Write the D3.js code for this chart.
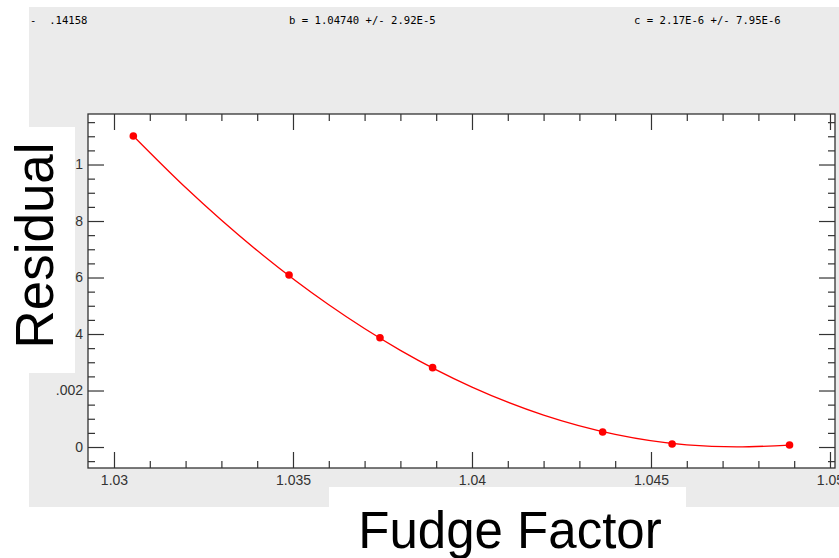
<!DOCTYPE html>
<html>
<head>
<meta charset="utf-8">
<script src="https://cdn.jsdelivr.net/npm/d3@7/dist/d3.min.js"></script>
<style>
  html, body { margin: 0; padding: 0; background: #ffffff; }
  svg { display: block; }
</style>
</head>
<body>
<svg id="chart" width="839" height="558"></svg>
<script>
// ---- data ----
const pointX = [1.03054, 1.03489, 1.03743, 1.03890, 1.04365, 1.04559, 1.04887];
const pointY = [0.011010, 0.006088, 0.003870, 0.002810, 0.000530, 0.000106, 0.000070];

// fitted curve
const fitX = [1.03054, 1.0320, 1.0340, 1.0360, 1.0380, 1.0400, 1.0420, 1.0440, 1.0460, 1.0474, 1.04887];
const fitY = [0.011010, 0.009185, 0.006954, 0.005033, 0.003422, 0.002121, 0.001129, 0.000448, 0.000076, 0.000002, 0.000070];

const xTickValues = [1.03, 1.035, 1.04, 1.045, 1.05];
const xTickLabels = ["1.03", "1.035", "1.04", "1.045", "1.05"];
const yTickValues = [0, 0.002, 0.004, 0.006, 0.008, 0.01];
const yTickLabels = ["0", ".002", ".004", ".006", ".008", ".01"];

const headerTexts = ["-  .14158", "b = 1.04740 +/- 2.92E-5", "c = 2.17E-6 +/- 7.95E-6"];
const xTitle = "Fudge Factor";
const yTitle = "Residual";

// ---- layout ----
const svg = d3.select("#chart");
const plot = { left: 88, right: 835, top: 114, bottom: 468 };

const x = d3.scaleLinear().domain([1.029274, 1.05014]).range([plot.left, plot.right]);
const y = d3.scaleLinear().domain([-0.000743, 0.011788]).range([plot.bottom, plot.top]);

// grey panel
svg.append("rect").attr("x", 29).attr("y", 7).attr("width", 810).attr("height", 500).attr("fill", "#ebebeb");

// header texts
const headerX = [30, 289, 634];
svg.selectAll("text.hdr").data(headerTexts).join("text")
  .attr("class", "hdr")
  .attr("x", (d, i) => headerX[i]).attr("y", 23.5)
  .attr("font-family", "'DejaVu Sans Mono', 'Liberation Mono', monospace")
  .attr("font-size", 10.6)
  .attr("fill", "#000")
  .style("white-space", "pre")
  .attr("xml:space", "preserve")
  .text(d => d);

// plot area
svg.append("rect")
  .attr("x", plot.left).attr("y", plot.top)
  .attr("width", plot.right - plot.left).attr("height", plot.bottom - plot.top)
  .attr("fill", "#ffffff");

const tickColor = "#333";
const minorX = d3.range(1030, 1051, 1).map(v => v / 1000).filter(v => v >= x.domain()[0] && v <= x.domain()[1] && !xTickValues.some(t => Math.abs(t - v) < 1e-9));
const minorY = d3.range(-1, 24, 1).map(v => v * 0.0005).filter(v => v >= y.domain()[0] && v <= y.domain()[1] && !yTickValues.some(t => Math.abs(t - v) < 1e-9));

function styleAxis(g) {
  g.select(".domain").remove();
  g.selectAll(".tick line").attr("stroke", tickColor).attr("stroke-width", 1.2);
  g.selectAll(".tick text").attr("fill", "#333")
    .attr("font-family", "'Liberation Sans', Arial, sans-serif").attr("font-size", 14);
}

// bottom
svg.append("g").attr("transform", `translate(0,${plot.bottom})`)
  .call(d3.axisBottom(x).tickValues(xTickValues).tickSize(-16).tickPadding(7)
    .tickFormat((d, i) => xTickLabels[i]))
  .call(styleAxis);
svg.append("g").attr("transform", `translate(0,${plot.bottom})`)
  .call(d3.axisBottom(x).tickValues(minorX).tickSize(-7).tickFormat(""))
  .call(styleAxis);
// top
svg.append("g").attr("transform", `translate(0,${plot.top})`)
  .call(d3.axisTop(x).tickValues(xTickValues).tickSize(-16).tickFormat(""))
  .call(styleAxis);
svg.append("g").attr("transform", `translate(0,${plot.top})`)
  .call(d3.axisTop(x).tickValues(minorX).tickSize(-7).tickFormat(""))
  .call(styleAxis);
// left
svg.append("g").attr("transform", `translate(${plot.left},0)`)
  .call(d3.axisLeft(y).tickValues(yTickValues).tickSize(-16).tickPadding(5)
    .tickFormat((d, i) => yTickLabels[i]))
  .call(styleAxis);
svg.append("g").attr("transform", `translate(${plot.left},0)`)
  .call(d3.axisLeft(y).tickValues(minorY).tickSize(-7).tickFormat(""))
  .call(styleAxis);
// right
svg.append("g").attr("transform", `translate(${plot.right},0)`)
  .call(d3.axisRight(y).tickValues(yTickValues).tickSize(-16).tickFormat(""))
  .call(styleAxis);
svg.append("g").attr("transform", `translate(${plot.right},0)`)
  .call(d3.axisRight(y).tickValues(minorY).tickSize(-7).tickFormat(""))
  .call(styleAxis);

// frame
svg.append("rect")
  .attr("x", plot.left).attr("y", plot.top)
  .attr("width", plot.right - plot.left).attr("height", plot.bottom - plot.top)
  .attr("fill", "none").attr("stroke", "#333").attr("stroke-width", 1.3);

// fit line
const line = d3.line().x(d => x(d[0])).y(d => y(d[1])).curve(d3.curveMonotoneX);
svg.append("path")
  .datum(fitX.map((v, i) => [v, fitY[i]]))
  .attr("d", line)
  .attr("fill", "none").attr("stroke", "#ff0000").attr("stroke-width", 1.3);

// points
svg.selectAll("circle.pt").data(pointX.map((v, i) => [v, pointY[i]])).join("circle")
  .attr("class", "pt")
  .attr("cx", d => x(d[0])).attr("cy", d => y(d[1])).attr("r", 3.8)
  .attr("fill", "#ff0000");

// y title box
svg.append("rect").attr("x", 0).attr("y", 127).attr("width", 75).attr("height", 246).attr("fill", "#ffffff");
svg.append("text")
  .attr("transform", "translate(53,245.5) rotate(-90)")
  .attr("text-anchor", "middle")
  .attr("font-family", "'Liberation Sans', Arial, sans-serif")
  .attr("font-size", 53)
  .attr("fill", "#000")
  .text(yTitle);

// x title box
svg.append("rect").attr("x", 329).attr("y", 487).attr("width", 357).attr("height", 71).attr("fill", "#ffffff");
svg.append("text")
  .attr("x", 510).attr("y", 548)
  .attr("text-anchor", "middle")
  .attr("font-family", "'Liberation Sans', Arial, sans-serif")
  .attr("font-size", 51)
  .attr("fill", "#000")
  .text(xTitle);
</script>
</body>
</html>
